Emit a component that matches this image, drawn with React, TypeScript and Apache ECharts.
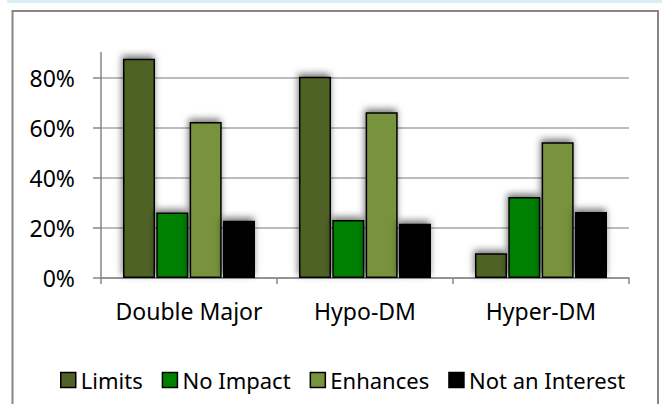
import React, { useEffect, useRef } from "react";
import * as echarts from "echarts";

const categories = ["Double Major", "Hypo-DM", "Hyper-DM"];
const limits = [0.875, 0.804, 0.099];
const noImpact = [0.262, 0.232, 0.323];
const enhances = [0.623, 0.662, 0.542];
const notInterest = [0.229, 0.217, 0.264];
const seriesNames = ["Limits", "No Impact", "Enhances", "Not an Interest"];
const seriesColors = ["#4f6228", "#008000", "#77933c", "#000000"];
const yTicks = [0, 0.2, 0.4, 0.6, 0.8];

export default function App() {
  const ref = useRef<HTMLDivElement>(null);
  useEffect(() => {
    if (!ref.current) return;
    const chart = echarts.init(ref.current, null, { renderer: "svg" });
    const font = "Noto Sans";
    const dataSets = [limits, noImpact, enhances, notInterest];
    chart.setOption({
      animation: false,
      backgroundColor: "#ffffff",
      textStyle: { fontFamily: font },
      graphic: [
        { type: "rect", shape: { x: 7, y: 0, width: 655, height: 3 }, style: { fill: "#daeef3" }, silent: true },
        {
          type: "rect",
          shape: { x: 12.5, y: 11, width: 645.5, height: 400 },
          style: { fill: "none", stroke: "#868686", lineWidth: 2 },
          silent: true,
          z: -1,
        },
      ],
      grid: { left: 101, right: 33, top: 52.6, bottom: 126 },
      legend: {
        bottom: 8,
        left: 55,
        icon: "rect",
        itemWidth: 15,
        itemHeight: 15,
        itemGap: 19,
        textStyle: { fontFamily: font, fontSize: 22, color: "#000" },
        data: seriesNames.map((n, i) => ({
          name: n,
          itemStyle: { color: seriesColors[i], borderColor: "#000", borderWidth: 1.5, shadowBlur: 0 },
        })),
      },
      xAxis: {
        type: "category",
        data: categories,
        axisLine: { lineStyle: { color: "#868686", width: 1.5 } },
        axisTick: { show: true, length: 6, lineStyle: { color: "#868686", width: 1.5 } },
        axisLabel: { fontFamily: font, fontSize: 23, color: "#000", margin: 21, interval: 0 },
      },
      yAxis: {
        type: "value",
        min: 0,
        max: 0.9,
        interval: 0.2,
        axisLine: { show: true, lineStyle: { color: "#868686", width: 1.5 } },
        axisTick: { show: true, length: 8, lineStyle: { color: "#868686", width: 1.5 } },
        axisLabel: {
          fontFamily: font,
          fontSize: 23,
          color: "#000",
          margin: 26,
          showMaxLabel: false,
          formatter: (v: number) => (yTicks.some((t) => Math.abs(t - v) < 1e-6) ? Math.round(v * 100) + "%" : ""),
        },
        splitLine: { show: true, showMaxLine: false, lineStyle: { color: "#a6a6a6", width: 1.5 } },
      },
      series: seriesNames.map((n, i) => ({
        name: n,
        type: "bar",
        data: dataSets[i],
        barCategoryGap: "25%",
        barGap: "4%",
        itemStyle: {
          color: seriesColors[i],
          borderColor: "#000",
          borderWidth: 1.5,
          shadowBlur: 7,
          shadowColor: "rgba(0,0,0,0.55)",
          shadowOffsetX: -1,
          shadowOffsetY: -3,
        },
      })),
    });
    return () => chart.dispose();
  }, []);
  return <div ref={ref} style={{ position: "fixed", left: 0, top: 0, width: 662, height: 404 }} />;
}
